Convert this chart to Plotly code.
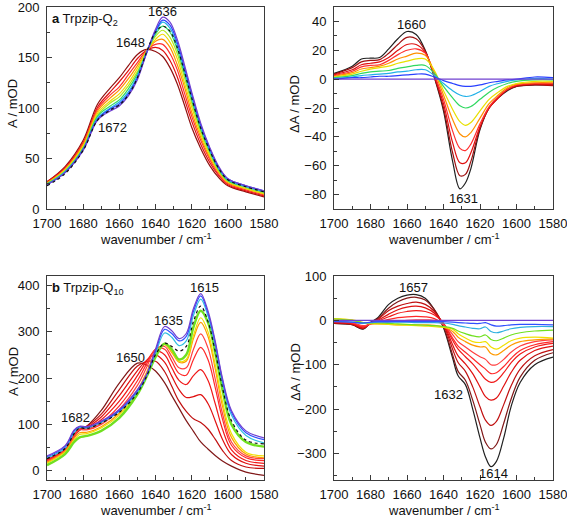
import plotly.graph_objects as go

# ---------------- Panel a (Trpzip-Q2) absorbance ----------------
xa = [1700, 1690, 1680, 1672, 1665, 1660, 1655, 1650, 1645, 1640, 1636,
      1632, 1628, 1624, 1620, 1615, 1610, 1605, 1600, 1590, 1580]
a_curves = [
    [24, 36, 58, 88, 97, 102, 112, 128, 154, 178, 190, 185, 168, 143, 116, 85, 61, 42, 30, 23, 18],
    [24, 36, 59, 89, 99, 104, 114, 130, 154, 176, 187, 182, 165, 140, 114, 83, 60, 41, 30, 23, 18],
    [24, 37, 59, 90, 100, 106, 116, 132, 155, 175, 185, 179, 162, 137, 111, 82, 58, 40, 29, 22, 17],
    [25, 37, 60, 92, 102, 108, 119, 134, 155, 173, 181, 175, 158, 134, 108, 79, 57, 39, 28, 22, 17],
    [25, 38, 61, 93, 105, 111, 122, 136, 155, 171, 177, 170, 154, 130, 105, 77, 55, 38, 28, 21, 16],
    [25, 39, 62, 95, 107, 114, 125, 139, 156, 168, 173, 165, 149, 125, 101, 74, 53, 37, 27, 20, 15],
    [26, 39, 64, 97, 110, 118, 129, 142, 156, 166, 168, 160, 143, 121, 96, 71, 51, 36, 26, 20, 15],
    [26, 40, 65, 99, 113, 121, 133, 145, 157, 163, 163, 154, 138, 115, 92, 68, 49, 34, 25, 19, 14],
    [27, 41, 66, 101, 116, 126, 137, 149, 157, 160, 157, 147, 131, 109, 87, 64, 46, 33, 24, 18, 13],
    [27, 42, 68, 104, 120, 130, 142, 153, 158, 156, 151, 140, 124, 103, 81, 60, 43, 31, 23, 17, 12],
]
a_dashed = [23, 35, 58, 88, 98, 103, 113, 130, 155, 175, 181, 176, 160, 136, 110, 80, 58, 40, 29, 22, 17]
a_colors = ['#7040d0', '#2840ff', '#20b0e8', '#30d860', '#b0e820',
            '#f0d800', '#ff9000', '#ff3030', '#e01010', '#901010']

# ---------------- Panel a difference spectra ----------------
xad = [1700, 1690, 1685, 1680, 1675, 1670, 1665, 1660, 1655, 1650, 1645, 1640,
       1635, 1631, 1628, 1625, 1620, 1615, 1610, 1605, 1600, 1590, 1580]
ad_curves = [
    [0] * 23,
    [0, 1, 1, 1.5, 2, 2, 2.5, 3, 3.5, 3.5, 1.5, -1, -3, -4.5, -5, -5, -4, -2.5, -1.5, -0.5, 0, 1.5, 1],
    [0.5, 1.5, 2.5, 3, 3.5, 4, 5, 5.5, 6.5, 6.5, 2.5, -3, -8, -11, -12, -11.5, -8.5, -5, -3, -1.5, -0.5, 0.5, 0],
    [1, 2.5, 4, 5, 5.5, 6, 7.5, 8.5, 9.5, 9.5, 4, -5, -13, -18.5, -20, -19, -14, -9, -5.5, -3, -1.5, -0.5, -0.5],
    [1.5, 3.5, 5.5, 7, 8, 9, 11, 12.5, 14, 14, 6, -8, -21, -29.5, -32, -30, -22, -14, -9, -5, -3, -1.5, -1.5],
    [2, 4.5, 7, 8, 9, 11, 14, 16, 18, 16.5, 5, -11, -28, -38, -40, -37, -27, -17, -11, -6, -3.5, -2.5, -2.5],
    [2.5, 5.5, 8.5, 9.5, 10, 13, 17, 20, 21, 18, 3, -14, -36, -48, -49.5, -45, -31, -19, -12, -7, -4, -3, -3],
    [3, 6.5, 10, 11, 12, 15, 20, 24, 24, 18.5, 2, -17, -44, -58, -58, -51, -33, -20, -13, -7, -4.5, -3.5, -4],
    [3.5, 8, 12, 13, 13.5, 18, 24, 29, 28, 19.5, 1.5, -20, -51, -67, -66, -57, -34, -20, -13, -7.5, -5, -4, -4.5],
    [4, 9, 14, 14.5, 15, 21, 28, 33, 31, 20, 1, -22, -57, -76, -72, -62, -35, -20, -13, -8, -5, -4, -4],
]
ad_colors = ['#7040d0', '#2840ff', '#20b0e8', '#30d860', '#e8e000',
             '#ff9000', '#ff3030', '#e01010', '#a01010', '#202020']

# ---------------- Panel b (Trpzip-Q10) absorbance ----------------
xb = [1700, 1690, 1685, 1682, 1678, 1670, 1660, 1650, 1645, 1640, 1635,
      1631, 1627, 1623, 1619, 1615, 1611, 1607, 1603, 1598, 1590, 1580]
b_curves = [
    [32, 54, 88, 96, 95, 107, 132, 175, 207, 262, 311, 302, 285, 296, 350, 382, 345, 280, 200, 130, 86, 71],
    [30, 52, 86, 95, 94, 106, 130, 173, 206, 258, 305, 296, 280, 290, 344, 377, 340, 276, 196, 126, 82, 67],
    [27, 49, 82, 93, 92, 104, 128, 170, 204, 252, 297, 288, 270, 280, 335, 370, 334, 270, 190, 120, 76, 60],
    [12, 36, 62, 72, 75, 86, 114, 165, 202, 245, 274, 262, 240, 250, 310, 345, 320, 255, 175, 100, 62, 52],
    [16, 40, 66, 78, 80, 92, 120, 170, 208, 250, 273, 258, 236, 240, 292, 330, 300, 230, 150, 80, 40, 32],
    [18, 42, 70, 82, 83, 95, 124, 174, 212, 254, 272, 255, 234, 236, 285, 320, 290, 220, 140, 72, 36, 28],
    [20, 44, 74, 88, 88, 100, 132, 184, 222, 262, 268, 246, 222, 222, 262, 295, 265, 198, 124, 62, 32, 26],
    [22, 45, 76, 90, 90, 104, 140, 194, 230, 262, 262, 236, 210, 206, 240, 266, 240, 180, 112, 55, 28, 22],
    [23, 46, 78, 91, 92, 110, 150, 205, 236, 258, 250, 222, 195, 186, 205, 218, 195, 145, 90, 45, 22, 16],
    [24, 46, 78, 91, 94, 116, 162, 216, 238, 250, 234, 204, 175, 158, 160, 164, 145, 108, 68, 35, 16, 10],
    [24, 46, 78, 90, 96, 122, 175, 226, 235, 236, 214, 182, 150, 128, 112, 104, 90, 68, 44, 22, 8, 5],
    [22, 44, 74, 87, 96, 130, 189, 232, 228, 215, 190, 162, 135, 108, 85, 62, 47, 33, 21, 10, -3, -10],
]
b_dashed = [26, 48, 80, 92, 91, 103, 126, 168, 203, 250, 275, 268, 258, 268, 322, 355, 322, 258, 180, 108, 66, 58]
b_colors = ['#7040d0', '#3050ff', '#30c0e0', '#70e020', '#f0e000', '#ff9a00',
            '#ff4040', '#ff2828', '#f01818', '#e01010', '#c01010', '#801818']
b_widths = [1.2, 1.2, 1.2, 2.4, 1.2, 1.2, 1.2, 1.2, 1.2, 1.2, 1.2, 1.2]

# ---------------- Panel b difference spectra ----------------
xbd = [1700, 1690, 1684, 1680, 1676, 1670, 1665, 1660, 1655, 1650, 1645, 1640, 1635,
       1632, 1628, 1624, 1620, 1617, 1614, 1611, 1607, 1603, 1598, 1590, 1580]
bd_curves = [
    [0] * 25,
    [-3, -4, -6, -4, -3, -3, -3, -3, -3, -3, -3, -3, -4, -5, -6, -7, -7, -5, -10, -13, -12, -10, -9, -9, -10],
    [-2, -4, -7, -5, -4, -4, -4, -4, -5, -5, -5, -6, -9, -12, -15, -18, -19, -15, -25, -28, -24, -19, -16, -14, -14],
    [3, 0, -5, -6, -6, -7, -8, -9, -10, -11, -12, -14, -18, -24, -30, -35, -37, -33, -43, -46, -40, -33, -28, -24, -22],
    [4, 1, -5, -7, -8, -9, -10, -11, -12, -13, -14, -16, -20, -30, -40, -48, -50, -48, -60, -65, -56, -46, -40, -38, -40],
    [3, 0, -6, -8, -8, -9, -10, -10, -10, -10, -11, -15, -25, -38, -48, -56, -60, -60, -75, -78, -68, -56, -48, -44, -42],
    [-2, -5, -12, -8, -6, -4, -2, 0, 1, 1, 0, -10, -32, -48, -60, -72, -82, -88, -100, -100, -88, -72, -58, -48, -44],
    [-3, -6, -14, -8, -4, 2, 6, 8, 9, 8, 4, -9, -40, -58, -72, -86, -100, -110, -120, -118, -104, -86, -68, -55, -48],
    [-4, -7, -15, -8, -2, 8, 16, 20, 22, 20, 12, -6, -45, -65, -82, -98, -118, -133, -140, -136, -118, -96, -76, -60, -52],
    [-5, -8, -17, -7, 0, 14, 24, 30, 32, 28, 16, -8, -55, -80, -98, -120, -150, -172, -180, -175, -148, -118, -90, -68, -58],
    [-6, -9, -18, -6, 2, 22, 32, 38, 41, 36, 20, -10, -65, -95, -115, -150, -195, -225, -237, -228, -190, -148, -110, -80, -66],
    [-7, -10, -19, -5, 4, 28, 42, 50, 52, 46, 24, -14, -78, -115, -135, -180, -235, -275, -290, -280, -232, -178, -128, -90, -73],
    [-7, -10, -20, -5, 6, 36, 50, 57, 58, 50, 24, -17, -85, -125, -145, -200, -265, -308, -330, -318, -265, -195, -140, -100, -83],
]
bd_colors = ['#7040d0', '#3050ff', '#30b0e0', '#70e020', '#f0e000', '#ff9a00',
             '#ff4040', '#ff2828', '#f01818', '#e01010', '#c01010', '#801818', '#202020']

FONT = "Liberation Sans, Arial, sans-serif"
W, H = 567, 520

fig = go.Figure()

def add_set(xs, curves, colors, xa_, ya_, widths=None, reverse=True):
    idx = list(range(len(curves)))
    if reverse:
        idx = idx[::-1]
    for i in idx:
        w = widths[i] if widths else 1.2
        fig.add_trace(go.Scatter(x=xs, y=curves[i], mode='lines',
                                 line=dict(color=colors[i], width=w, shape='spline', smoothing=1.0),
                                 xaxis=xa_, yaxis=ya_, showlegend=False, hoverinfo='skip'))

add_set(xa, a_curves, a_colors, 'x', 'y')
fig.add_trace(go.Scatter(x=xa, y=a_dashed, mode='lines',
                         line=dict(color='#111111', width=1.2, dash='dot', shape='spline'),
                         xaxis='x', yaxis='y', showlegend=False, hoverinfo='skip'))
add_set(xad, ad_curves, ad_colors, 'x2', 'y2')
add_set(xb, b_curves, b_colors, 'x3', 'y3', widths=b_widths)
fig.add_trace(go.Scatter(x=xb, y=b_dashed, mode='lines',
                         line=dict(color='#111111', width=1.2, dash='dot', shape='spline'),
                         xaxis='x3', yaxis='y3', showlegend=False, hoverinfo='skip'))
add_set(xbd, bd_curves, bd_colors, 'x4', 'y4')

def px_x(p):
    return p / W

def px_y(p):
    return 1 - p / H

dom_xl = [px_x(47), px_x(264)]
dom_xr = [px_x(334), px_x(553)]
dom_ya = [px_y(209), px_y(7)]
dom_yb = [px_y(480), px_y(276)]

axcommon = dict(showgrid=False, zeroline=False, showline=True, linecolor='#3a3a3a',
                linewidth=1, mirror=True, ticks='inside', ticklen=5, tickcolor='#3a3a3a',
                tickfont=dict(family=FONT, size=13, color='#111'), automargin=False,
                ticklabeloverflow='allow')

def xaxis(dom, anchor):
    d = dict(axcommon)
    d.update(domain=dom, anchor=anchor, range=[1700, 1580], dtick=20, tick0=1700,
             minor=dict(ticks='inside', ticklen=3, dtick=10, tickcolor='#3a3a3a'),
             ticklabelstandoff=2)
    return d

def yaxis(dom, anchor, rng, dt):
    d = dict(axcommon)
    d.update(domain=dom, anchor=anchor, range=rng, dtick=dt, tick0=0,
             minor=dict(ticks='inside', ticklen=3, dtick=dt / 2, tickcolor='#3a3a3a'),
             ticklabelstandoff=4)
    return d

fig.update_layout(
    width=W, height=H, margin=dict(l=0, r=0, t=0, b=0),
    paper_bgcolor='white', plot_bgcolor='white',
    xaxis=xaxis(dom_xl, 'y'), yaxis=yaxis(dom_ya, 'x', [0, 200], 50),
    xaxis2=xaxis(dom_xr, 'y2'), yaxis2=yaxis(dom_ya, 'x2', [-90, 50], 20),
    xaxis3=xaxis(dom_xl, 'y3'), yaxis3=yaxis(dom_yb, 'x3', [-20, 420], 100),
    xaxis4=xaxis(dom_xr, 'y4'), yaxis4=yaxis(dom_yb, 'x4', [-360, 100], 100),
    font=dict(family=FONT, size=13, color='#111'),
)

ann = []
tf = dict(family=FONT, size=13, color='#111')
# axis titles
for cx, cy in [(155.5, 239), (443.5, 239), (155.5, 510), (443.5, 510)]:
    ann.append(dict(text='wavenumber / cm<sup>-1</sup>', x=px_x(cx), y=px_y(cy), xref='paper', yref='paper',
                    showarrow=False, font=tf, xanchor='center', yanchor='middle'))
for cx, cy, t in [(13, 104, 'A / mOD'), (295, 104, 'ΔA / mOD'),
                  (13, 372, 'A / mOD'), (295, 372, 'ΔA / mOD')]:
    ann.append(dict(text=t, x=px_x(cx), y=px_y(cy), xref='paper', yref='paper', textangle=-90,
                    showarrow=False, font=tf, xanchor='center', yanchor='middle'))
# panel labels
ann.append(dict(text='<b>a</b> Trpzip-Q<sub>2</sub>', x=px_x(50), y=px_y(9), xref='paper', yref='paper',
                showarrow=False, font=tf, xanchor='left', yanchor='top'))
ann.append(dict(text='<b>b</b> Trpzip-Q<sub>10</sub>', x=px_x(50), y=px_y(278), xref='paper', yref='paper',
                showarrow=False, font=tf, xanchor='left', yanchor='top'))
# peak labels
peaks = [('x', 'y', 1636, 196, '1636'), ('x', 'y', 1654, 165, '1648'), ('x', 'y', 1664, 81, '1672'),
         ('x2', 'y2', 1657.5, 38, '1660'), ('x2', 'y2', 1629, -83, '1631'),
         ('x3', 'y3', 1612.7, 396, '1615'), ('x3', 'y3', 1633, 323, '1635'),
         ('x3', 'y3', 1654, 244, '1650'), ('x3', 'y3', 1684.4, 114, '1682'),
         ('x4', 'y4', 1656.6, 75, '1657'), ('x4', 'y4', 1637.3, -167, '1632'),
         ('x4', 'y4', 1612.6, -345, '1614')]
for xr, yr, px, py, t in peaks:
    ann.append(dict(text=t, x=px, y=py, xref=xr, yref=yr, showarrow=False, font=tf,
                    xanchor='center', yanchor='middle'))
fig.update_layout(annotations=ann)

fig.write_html("out.html", config={'displayModeBar': False},
               post_script="document.body.style.margin='0px';document.body.style.padding='0px';"
                           "document.documentElement.style.overflow='hidden';")
